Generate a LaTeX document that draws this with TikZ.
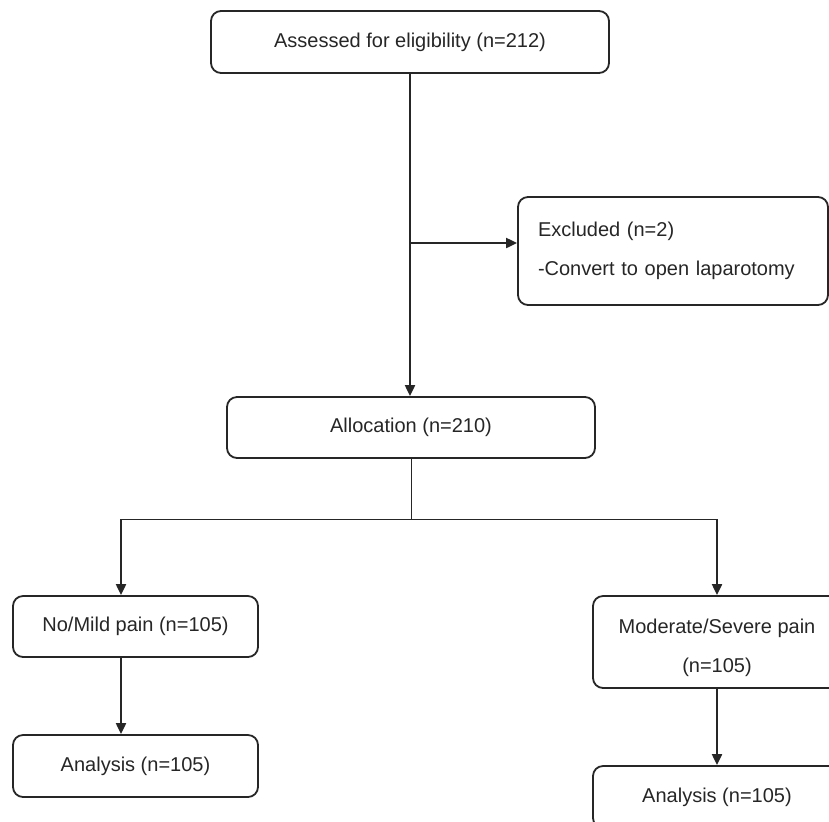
\documentclass[tikz,border=0pt]{standalone}
\usepackage{fontspec}
\setmainfont{Liberation Sans}
\usetikzlibrary{arrows.meta}
\begin{document}
\begin{tikzpicture}[x=0.5pt,y=-0.5pt,
    box/.style={draw=black!85,rounded corners=5pt,line width=0.9pt,inner sep=0pt,font=\fontsize{10}{19.5}\selectfont,text=black!85},
    arr/.style={draw=black!85,line width=1pt,-{Triangle[length=5.5pt,width=5pt]}},
    thinline/.style={draw=black!85,line width=0.5pt}]
    \useasboundingbox (0,0) rectangle (829,821);
    \clip (0,0) rectangle (829,821);

    \node[box,minimum width=199pt,minimum height=31pt] (assess) at (410,42) {Assessed for eligibility (n=212)};
    \node[box,minimum width=155pt,minimum height=54pt,text width=135pt,align=left,inner xsep=10pt] (excl) at (673,251) {Excluded (n=2)\\-Convert to open laparotomy};
    \node[box,minimum width=184pt,minimum height=30.5pt] (alloc) at (411,427.5) {Allocation (n=210)};
    \node[box,minimum width=122.5pt,minimum height=30.5pt] (nomild) at (135.5,626.5) {No/Mild pain (n=105)};
    \node[box,minimum width=122.5pt,minimum height=31pt] (ana1) at (135.5,766) {Analysis (n=105)};
    \node[box,minimum width=124pt,minimum height=46pt,align=center] (moder) at (717,642) {\rule{0pt}{13pt}Moderate/Severe pain\\(n=105)};
    \node[box,minimum width=124pt,minimum height=31pt] (ana2) at (717,797) {Analysis (n=105)};

    \coordinate (excljoin) at (410,243);
    \coordinate (split) at (411,519);
    \coordinate (lft) at (121,519);
    \coordinate (rgt) at (717,519);

    \draw[arr] (assess.south) -- (assess.south |- alloc.north);
    \draw[arr] (excljoin) -- (excljoin -| excl.west);

    \draw[thinline] (alloc.south) -- (split);
    \draw[thinline] (lft) -- (rgt);
    \draw[arr] (lft) -- (lft |- nomild.north);
    \draw[arr] (rgt) -- (moder.north);

    \draw[arr] (lft |- nomild.south) -- (lft |- ana1.north);
    \draw[arr] (moder) -- (ana2);
\end{tikzpicture}
\end{document}
